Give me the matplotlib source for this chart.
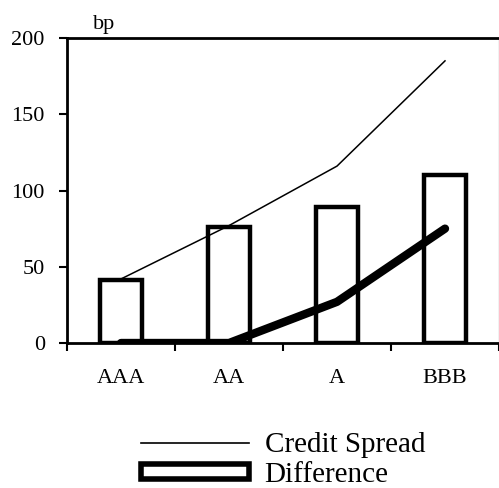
import numpy as np
import matplotlib.pyplot as plt
from matplotlib.patches import Patch
from matplotlib.lines import Line2D

plt.rcParams['font.family'] = ['Liberation Serif', 'DejaVu Serif']

ratings = ['AAA', 'AA', 'A', 'BBB']
bar_values = [41, 76, 89, 110]
credit_spread = [42, 77, 116, 185]
difference = [0, 0, 27, 75]

x = np.arange(len(ratings))

fig = plt.figure(figsize=(4.99, 4.88), dpi=100)
ax = fig.add_axes([67 / 499, 1 - 343 / 488, 432 / 499, 305 / 488])

ax.bar(x, bar_values, width=0.38, color='white', edgecolor='black', linewidth=3.2, zorder=2)
ax.plot(x, credit_spread, color='black', linewidth=1.1, zorder=3)
ax.plot(x, difference, color='black', linewidth=6, solid_capstyle='round', zorder=4)

ax.set_xlim(-0.5, 3.5)
ax.set_ylim(0, 200)
ax.set_yticks([0, 50, 100, 150, 200])
ax.set_xticks(x)
ax.set_xticklabels(ratings)
ax.tick_params(axis='x', length=0, pad=19, labelsize=16)
ax.set_xticks(np.arange(-0.5, 4, 1), minor=True)
ax.tick_params(axis='x', which='minor', length=6, width=1.5, direction='out')
ax.tick_params(axis='y', length=6, width=1.5, direction='out', labelsize=16, pad=10)

ax.spines['left'].set_linewidth(2)
ax.spines['bottom'].set_linewidth(2)
ax.spines['top'].set_linewidth(2)
ax.spines['right'].set_linewidth(0.8)

ax.text(-0.26, 206, 'bp', fontsize=16, ha='left', va='baseline')

handles = [Line2D([0], [0], color='black', linewidth=1.2),
           Patch(facecolor='white', edgecolor='black', linewidth=4)]
fig.legend(handles, ['Credit Spread', 'Difference'], loc='center',
           bbox_to_anchor=(0.567, 1 - 460 / 488), frameon=False, fontsize=21,
           handlelength=3.7, handleheight=0.45, labelspacing=0.12, handletextpad=0.55,
           borderpad=0)

fig.savefig('out.png', dpi=100)
